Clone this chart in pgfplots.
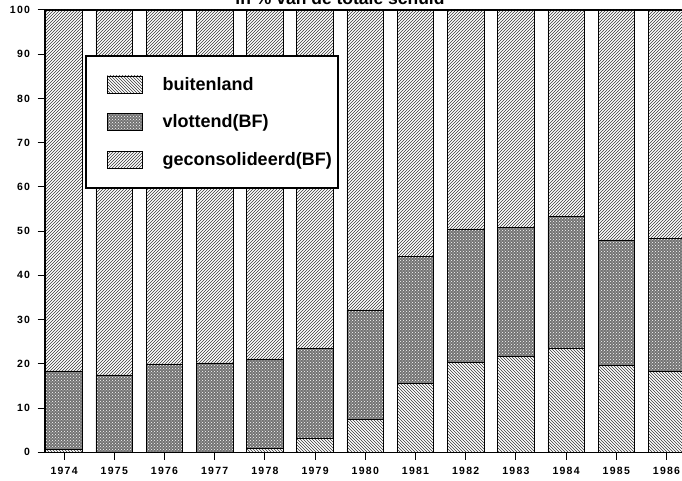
\documentclass[border=0pt]{standalone}
\usepackage{fontspec}
\setmainfont{Liberation Sans}
\usepackage{pgfplots}
\pgfplotsset{compat=1.18}
\usetikzlibrary{patterns}
\begin{document}
\begin{tikzpicture}
\begin{axis}[
  scale only axis,
  width=646.6pt, height=442.3pt,
  xmin=-0.38, xmax=12.5,
  ymin=0, ymax=100,
  ybar stacked,
  bar width=36.6pt,
  xtick={0,...,12},
  xticklabels={1974,1975,1976,1977,1978,1979,1980,1981,1982,1983,1984,1985,1986},
  ytick={0,10,...,100},
  tick align=outside,
  xtick pos=bottom, ytick pos=left,
  major tick length=7.5pt,
  every tick/.style={black, line width=1pt},
  axis line style={line width=1.3pt},
  /pgf/number format/assume math mode=true,
  tick label style={font=\fontsize{10.5}{12}\selectfont\bfseries\addfontfeature{LetterSpace=12}},
  yticklabel style={xshift=-4pt},
  xticklabel style={yshift=-4pt},
  legend cell align=left,
  legend style={
    at={(rel axis cs:0.0619,0.898)}, anchor=north west,
    draw=black, line width=2.2pt, fill=white,
    inner xsep=4pt, inner ysep=19pt,
    row sep=19pt,
    font=\fontsize{18}{20}\selectfont\bfseries,
    /tikz/every odd column/.append style={column sep=18pt},
  },
  legend image code/.code={%
    \path (0pt,0pt);
    \draw[#1, line width=0.6pt] (17pt,-8.5pt) rectangle (52pt,8.5pt);
  },
]
\addplot[draw=black, line width=0.6pt, pattern=north west lines, pattern color=black!78] coordinates {
 (0,0.6) (1,0) (2,0) (3,0) (4,0.8) (5,3.1) (6,7.5) (7,15.5) (8,20.4) (9,21.6) (10,23.5) (11,19.7) (12,18.2)};
\addlegendentry{buitenland}
\addplot[draw=black, line width=0.6pt, fill=black!55, postaction={pattern=crosshatch dots, pattern color=white}] coordinates {
 (0,17.8) (1,17.5) (2,20.0) (3,20.2) (4,20.3) (5,20.4) (6,24.7) (7,28.8) (8,30.1) (9,29.3) (10,29.8) (11,28.3) (12,30.1)};
\addlegendentry{vlottend(BF)}
\addplot[draw=black, line width=0.6pt, pattern=north east lines, pattern color=black!78] coordinates {
 (0,81.6) (1,82.5) (2,80.0) (3,79.8) (4,78.9) (5,76.5) (6,67.8) (7,55.7) (8,49.5) (9,49.1) (10,46.7) (11,52.0) (12,51.7)};
\addlegendentry{geconsolideerd(BF)}
\end{axis}
\node[anchor=base, font=\fontsize{17.5}{20}\selectfont\bfseries] at (295pt,447.3pt) {in \% van de totale schuld};
\pgfresetboundingbox
\path[use as bounding box] (-45pt,-28.7pt) rectangle (637pt,452.3pt);
\end{tikzpicture}
\end{document}
